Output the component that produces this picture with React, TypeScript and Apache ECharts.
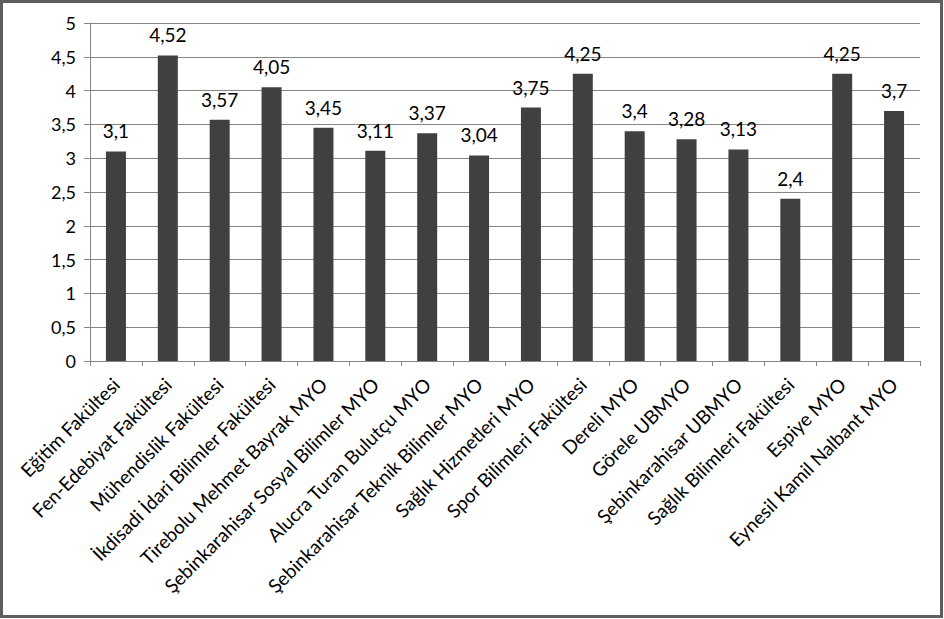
import React, { useEffect, useRef } from "react";
import * as echarts from "echarts";

const categories = [
  "Eğitim Fakültesi",
  "Fen-Edebiyat Fakültesi",
  "Mühendislik Fakültesi",
  "İkdisadi İdari Bilimler Fakültesi",
  "Tirebolu Mehmet Bayrak MYO",
  "Şebinkarahisar Sosyal Bilimler MYO",
  "Alucra Turan Bulutçu MYO",
  "Şebinkarahisar Teknik Bilimler MYO",
  "Sağlık Hizmetleri MYO",
  "Spor Bilimleri Fakültesi",
  "Dereli MYO",
  "Görele UBMYO",
  "Şebinkarahisar UBMYO",
  "Sağlık Bilimleri Fakültesi",
  "Espiye MYO",
  "Eynesil Kamil Nalbant MYO",
];

const values = [3.1, 4.52, 3.57, 4.05, 3.45, 3.11, 3.37, 3.04, 3.75, 4.25, 3.4, 3.28, 3.13, 2.4, 4.25, 3.7];

const yMin = 0;
const yMax = 5;
const yStep = 0.5;

const fmt = (v: number) => String(v).replace(".", ",");

export default function App() {
  const ref = useRef<HTMLDivElement>(null);
  useEffect(() => {
    if (!ref.current) return;
    const chart = echarts.init(ref.current, undefined, { renderer: "svg" });
    const font = "Lato, 'Open Sans', sans-serif";
    chart.setOption({
      animation: false,
      backgroundColor: "#ffffff",
      graphic: [
        {
          type: "rect",
          shape: { x: 1.5, y: 1.5, width: 940, height: 615 },
          style: { fill: "none", stroke: "#5e5e5e", lineWidth: 3 },
          silent: true,
        },
      ],
      grid: { left: 90, right: 24, top: 23, bottom: 258, containLabel: false },
      xAxis: {
        type: "category",
        data: categories,
        axisLine: { show: true, lineStyle: { color: "#868686", width: 1 } },
        axisTick: { show: true, length: 5, lineStyle: { color: "#868686" } },
        axisLabel: {
          rotate: 45,
          interval: 0,
          margin: 20,
          color: "#000",
          fontFamily: font,
          fontSize: 19,
        },
      },
      yAxis: {
        type: "value",
        min: yMin,
        max: yMax,
        interval: yStep,
        axisLine: { show: true, lineStyle: { color: "#868686", width: 1 } },
        axisTick: { show: true, length: 6, lineStyle: { color: "#868686" } },
        splitLine: { show: true, lineStyle: { color: "#868686", width: 1 } },
        axisLabel: {
          color: "#000",
          fontFamily: font,
          fontSize: 18,
          margin: 14,
          formatter: (v: number) => fmt(v),
        },
      },
      series: [
        {
          type: "bar",
          data: values,
          barWidth: 20,
          itemStyle: { color: "#404040" },
          label: {
            show: true,
            position: "top",
            distance: 11,
            color: "#000",
            fontFamily: font,
            fontSize: 19,
            formatter: (p: any) => fmt(p.value),
          },
        },
      ],
    });
    return () => chart.dispose();
  }, []);
  return (
    <div
      ref={ref}
      style={{ position: "fixed", left: 0, top: 0, width: 944, height: 619 }}
    />
  );
}
